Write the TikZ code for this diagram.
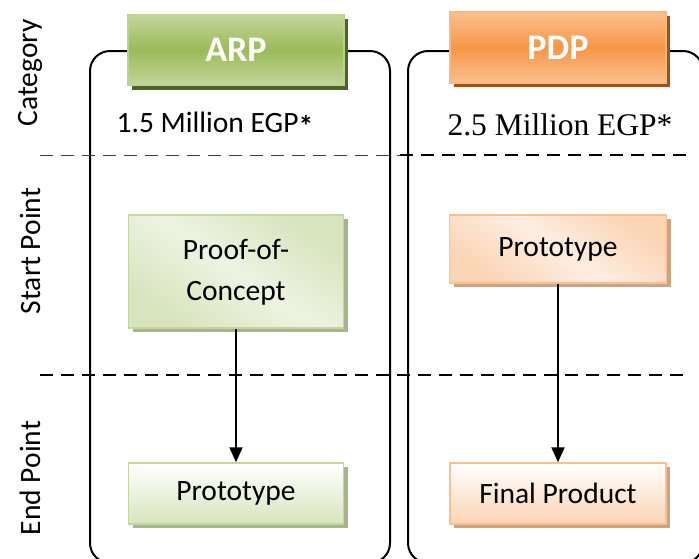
\documentclass[tikz,border=0pt]{standalone}
\usepackage{fontspec}
\setmainfont{Carlito}
\newfontfamily\timesf{Liberation Serif}
\usetikzlibrary{shadows,arrows.meta}
\definecolor{gMid}{HTML}{9BBB59}
\definecolor{gLight}{HTML}{C3D69B}
\definecolor{gDark}{HTML}{4F6228}
\definecolor{gPale}{HTML}{D7E4BD}
\definecolor{gPaler}{HTML}{EEF3E2}
\definecolor{gShadow}{HTML}{A6B58E}
\definecolor{oMid}{HTML}{F79646}
\definecolor{oLight}{HTML}{FAC08F}
\definecolor{oDark}{HTML}{A5520F}
\definecolor{oPale}{HTML}{FBD4B4}
\definecolor{oPaler}{HTML}{FDEEE2}
\definecolor{oShadow}{HTML}{CDA386}
\tikzset{
  x=1pt, y=-1pt,
  bigtxt/.style={font=\fontsize{29.5}{42}\selectfont},
  header/.style={minimum width=216pt, minimum height=71pt, inner sep=0pt,
     text=white, font=\fontsize{36}{40}\selectfont\bfseries, line width=1.5pt},
  arphead/.style={header, draw=gLight!80!gMid, top color=gLight, bottom color=gLight, middle color=gMid,
     drop shadow={shadow xshift=4pt, shadow yshift=-4pt, fill=gDark, opacity=1}},
  pdphead/.style={header, draw=oLight!80!oMid, top color=oLight, bottom color=oLight, middle color=oMid,
     drop shadow={shadow xshift=4pt, shadow yshift=-4pt, fill=oDark, opacity=1}},
  gbox/.style={bigtxt, inner sep=0pt, align=center, draw=gLight, line width=1.5pt,
     drop shadow={shadow xshift=4pt, shadow yshift=-4pt, fill=gShadow, opacity=1}},
  obox/.style={bigtxt, inner sep=0pt, align=center, draw=oLight, line width=1.5pt,
     drop shadow={shadow xshift=4pt, shadow yshift=-4pt, fill=oShadow, opacity=1}},
  container/.style={draw=black, line width=2pt, rounded corners=20pt},
  divider/.style={draw=black, line width=2pt, dash pattern=on 13pt off 8pt},
  conn/.style={draw=black, line width=2pt, -{Triangle[length=15pt, width=13pt]}},
  sidelabel/.style={bigtxt, rotate=90, inner sep=0pt}
}
\begin{document}
\begin{tikzpicture}
\useasboundingbox (0,0) rectangle (699,558);
% containers
\draw[container] (90,51) rectangle (390,563);
\draw[container] (408,51) rectangle (703,563);
% dividers
\draw[divider, line width=1pt, draw=black!75] (40,155) -- (400,155);
\draw[divider] (400,155) -- (690,155);
\draw[divider] (40,375) -- (690,375);
% side labels
\node[sidelabel] (lcat) at (30,73) {Category};
\node[sidelabel] (lstart) at (30,251) {Start Point};
\node[sidelabel] (lend) at (30,478) {End Point};
% headers
\node[arphead] (arp) at (236,50) {ARP};
\node[pdphead] (pdp) at (558,47.5) {PDP};
% amounts
\node[bigtxt, inner sep=0pt] (amt1) at (215,124) {1.5 Million EGP{\bfseries\raisebox{-0.25ex}{*}}};
\node[inner sep=0pt, font=\timesf\fontsize{31.5}{36}\selectfont] (amt2) at (560,125) {2.5 Million EGP*};
% start boxes
\node[gbox, minimum width=215pt, minimum height=113pt, top color=gPale, bottom color=gPale, middle color=gPaler, shading angle=-35] (poc) at (236,271.5) {\raisebox{2pt}{\begin{tabular}{@{}c@{}}Proof-of-\\[-1pt]Concept\end{tabular}}};
\node[obox, minimum width=217pt, minimum height=68pt, top color=oPale, bottom color=oPale, middle color=oPaler, shading angle=-35] (proto2) at (558,249) {Prototype};
% end boxes
\node[gbox, minimum width=215pt, minimum height=61pt, top color=white, bottom color=gPale] (proto1) at (236,493.5) {\raisebox{-2pt}{Prototype}};
\node[obox, minimum width=216pt, minimum height=61pt, top color=white, bottom color=oPale] (final) at (558,493.5) {Final Product};
% connectors
\draw[conn] (poc.south) -- (proto1.north);
\draw[conn] (proto2.south) -- (final.north);
\end{tikzpicture}
\end{document}
